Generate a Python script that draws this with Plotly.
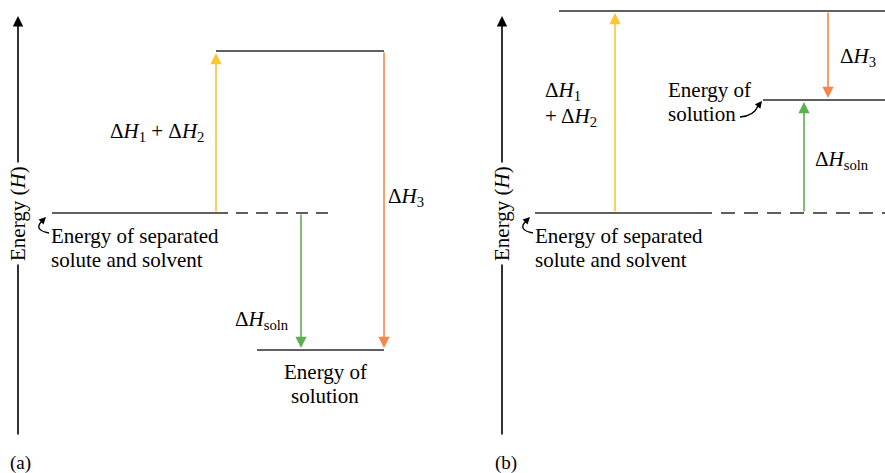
import plotly.graph_objects as go

# ---- data (energy levels, arbitrary units; separated solute+solvent = 0) ----
panels = ["(a)", "(b)"]
sep_energy = [0.0, 0.0]          # energy of separated solute and solvent
top_energy = [8.1, 10.1]         # after ΔH1 + ΔH2
soln_energy = [-6.85, 5.65]      # energy of solution

W, H = 885, 473
E_MIN, E_MAX = -13.0, 10.65      # energy axis range (maps to figure height)
DOM = "y domain"

def py(px):
    """pixel row -> y-domain fraction (plot area fills the figure)"""
    return 1 - px / H

FONT = "Liberation Serif, Times New Roman, serif"
FS = 21
LINE = "#2b2b2b"
YEL = "#FDC52E"
ORA = "#F4874B"
GRN = "#5DAF4F"

def Hs(sub):
    return "Δ<i>H</i><sub>%s</sub>" % sub

fig = go.Figure()
fig.add_trace(go.Scatter(x=[0], y=[0], mode="markers", marker=dict(opacity=0), hoverinfo="skip", showlegend=False))

shapes = []
ann = []

def hline(x0, x1, e, dash="solid"):
    shapes.append(dict(type="line", xref="x", yref="y", x0=x0, x1=x1, y0=e, y1=e,
                       line=dict(color=LINE, width=1.6, dash=dash)))

def varrow(x, e_from, e_to, color):
    ann.append(dict(xref="x", yref="y", axref="x", ayref="y", x=x, y=e_to, ax=x, ay=e_from,
                    text="", showarrow=True, arrowhead=2, arrowsize=1.4, arrowwidth=1.6,
                    arrowcolor=color, standoff=2, startstandoff=0))

def text(x, ypx, s, xanchor="left", size=FS, **kw):
    ann.append(dict(xref="x", yref=DOM, x=x, y=py(ypx), text=s, showarrow=False,
                    xanchor=xanchor, yanchor="middle", font=dict(family=FONT, size=size, color="black"), **kw))

def energy_axis(x):
    ann.append(dict(xref="x", yref=DOM, axref="x", ayref=DOM, x=x, y=py(16), ax=x, ay=py(436),
                    text="", showarrow=True, arrowhead=2, arrowsize=1.3, arrowwidth=1.6,
                    arrowcolor="black", standoff=0))
    ann.append(dict(xref="x", yref=DOM, x=x, y=py(214), text="Energy (<i>H</i>)", textangle=-90,
                    showarrow=False, bgcolor="white", borderpad=3,
                    font=dict(family=FONT, size=FS, color="black")))

def hook(path, tip, tail):
    shapes.append(dict(type="path", xref="x", yref=DOM, path=path, line=dict(color="black", width=1.4)))
    ann.append(dict(xref="x", yref=DOM, axref="x", ayref=DOM, x=tip[0], y=py(tip[1]),
                    ax=tail[0], ay=py(tail[1]), text="", showarrow=True, arrowhead=2,
                    arrowsize=1.0, arrowwidth=1.4, arrowcolor="black", standoff=0))

def P(x, ypx):
    return "%g,%g" % (x, py(ypx))

# ---------------- panel (a) ----------------
energy_axis(18)
hline(52, 216, sep_energy[0])
hline(216, 330, sep_energy[0], dash="12px,8px")
hline(216, 384, top_energy[0])
hline(257, 384, soln_energy[0])
varrow(216, sep_energy[0], top_energy[0], YEL)
varrow(384, top_energy[0], soln_energy[0], ORA)
varrow(301, sep_energy[0], soln_energy[0], GRN)
text(157, 132, Hs("1") + " + " + Hs("2"), xanchor="center")
text(386, 197, Hs("3"))
text(233, 320, Hs("soln"))
text(325, 372, "Energy of", xanchor="center")
text(325, 396, "solution", xanchor="center")
text(49, 236, "Energy of separated")
text(49, 260, "solute and solvent")
hook("M " + P(49, 233) + " Q " + P(33, 230) + " " + P(42, 221), (46, 217), (42, 221))
text(8, 463, panels[0], size=19)

# ---------------- panel (b) ----------------
energy_axis(502)
hline(535, 698, sep_energy[1])
hline(698, 885, sep_energy[1], dash="14px,9px")
hline(559, 885, top_energy[1])
hline(763, 885, soln_energy[1])
varrow(615, sep_energy[1], top_energy[1], YEL)
varrow(828, top_energy[1], soln_energy[1], ORA)
varrow(804, sep_energy[1], soln_energy[1], GRN)
text(543, 91, Hs("1"))
text(543, 117, "+ " + Hs("2"))
text(838, 57, Hs("3"))
text(813, 160, Hs("soln"))
text(709, 90, "Energy of", xanchor="center")
text(666, 114, "solution")
hook("M " + P(740, 117) + " Q " + P(754, 116) + " " + P(758, 106), (762, 101), (758, 106))
text(533, 236, "Energy of separated")
text(533, 260, "solute and solvent")
hook("M " + P(533, 233) + " Q " + P(517, 230) + " " + P(526, 221), (530, 217), (526, 221))
text(493, 463, panels[1], size=19)

fig.update_layout(
    width=W, height=H, margin=dict(l=0, r=0, t=0, b=0),
    paper_bgcolor="white", plot_bgcolor="white",
    font=dict(family=FONT),
    xaxis=dict(range=[0, W], visible=False, fixedrange=True),
    yaxis=dict(range=[E_MIN, E_MAX], visible=False, fixedrange=True),
    shapes=shapes, annotations=ann, showlegend=False,
)
fig.write_html("out.html", config={"displayModeBar": False},
               post_script="document.body.style.margin='0';document.body.style.overflow='hidden';")
